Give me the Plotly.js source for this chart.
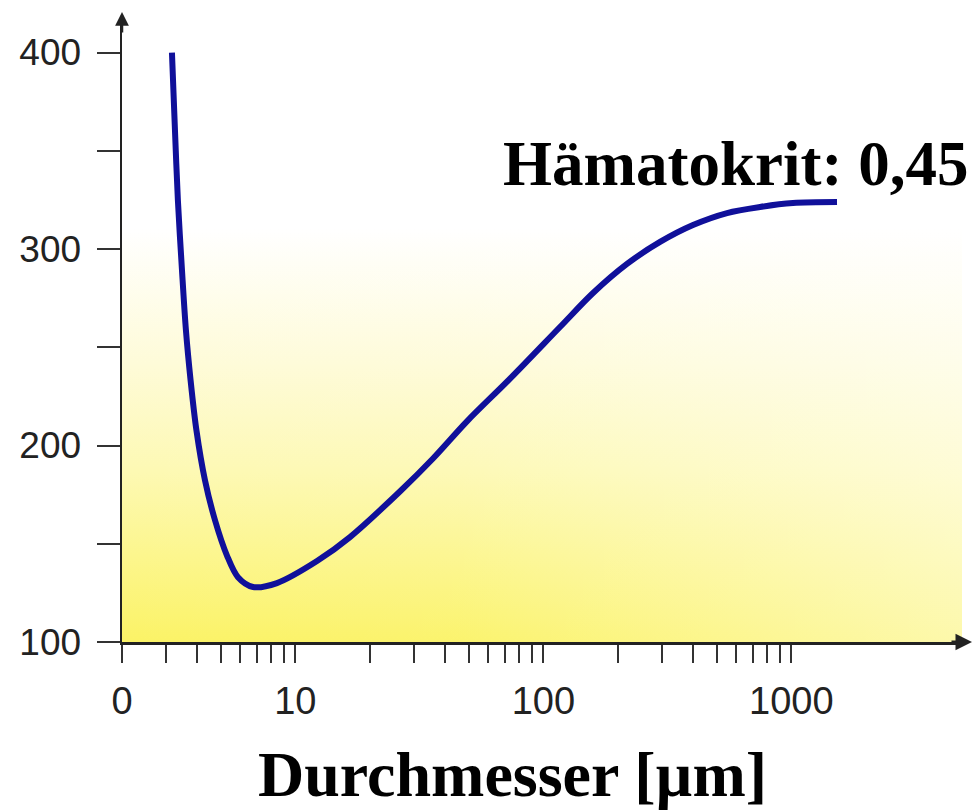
<!DOCTYPE html>
<html>
<head>
<meta charset="utf-8">
<script src="https://cdn.plot.ly/plotly-3.0.1.min.js"></script>
<style>html,body{margin:0;padding:0;background:#fff;}#chart{width:974px;height:810px;}</style>
</head>
<body>
<div id="chart"></div>
<script>
// Data (diameter in µm, log axis; y value)
const diameter = [3.18, 3.27, 3.36, 3.49, 3.62, 3.78, 3.99, 4.32, 4.74, 5.30, 5.87, 6.75, 8.43, 12.23, 16.61, 26.4, 35.9, 49.2, 73.4, 116.7, 158.6, 217.4, 295.4, 401.2, 550.4, 747.4, 1015, 1528];
const viscosityValue = [400, 360.6, 324.9, 289.3, 258.8, 233.3, 207.9, 182.4, 162.1, 144.0, 133.0, 128.0, 130.0, 141.2, 153.4, 176.6, 193.4, 212.3, 234.0, 260.3, 277.6, 292.4, 303.6, 312.2, 318.3, 321.4, 323.4, 323.9];

const xTickVals = [2, 3, 4, 5, 6, 7, 8, 9, 10, 20, 30, 40, 50, 60, 70, 80, 90, 100, 200, 300, 400, 500, 600, 700, 800, 900, 1000];
const xTickText = ["0", "", "", "", "", "", "", "", "10", "", "", "", "", "", "", "", "", "100", "", "", "", "", "", "", "", "", "1000"];
const yTickVals = [100, 150, 200, 250, 300, 350, 400];
const yTickText = ["100", "", "200", "", "300", "", "400"];
const curveLabel = "Hämatokrit: 0,45";
const xTitle = "Durchmesser [µm]";

// background gradient image
function makeBg(w, h) {
  const c = document.createElement('canvas');
  c.width = w; c.height = h;
  const g = c.getContext('2d');
  const v = g.createLinearGradient(0, 0, 0, h);
  v.addColorStop(0, '#ffffff');
  v.addColorStop(0.33, '#ffffff');
  v.addColorStop(0.55, '#fefbd8');
  v.addColorStop(0.72, '#fdf9b4');
  v.addColorStop(1, '#fbf366');
  g.fillStyle = v; g.fillRect(0, 0, w, h);
  const hz = g.createLinearGradient(0, 0, w, 0);
  hz.addColorStop(0, 'rgba(255,255,255,0)');
  hz.addColorStop(0.4, 'rgba(255,255,255,0.05)');
  hz.addColorStop(1, 'rgba(255,255,255,0.45)');
  g.fillStyle = hz; g.fillRect(0, 0, w, h);
  return c.toDataURL('image/png');
}

const trace = {
  x: diameter, y: viscosityValue,
  type: 'scatter', mode: 'lines',
  line: {color: '#10109a', width: 6, shape: 'spline', smoothing: 0.9},
  hoverinfo: 'skip', showlegend: false
};

const layout = {
  width: 974, height: 810,
  margin: {l: 122, r: 12, t: 25, b: 168},
  paper_bgcolor: '#ffffff',
  plot_bgcolor: 'rgba(0,0,0,0)',
  showlegend: false,
  xaxis: {
    type: 'log', range: [Math.log10(2), 3.688],
    tickvals: xTickVals, ticktext: xTickText,
    ticks: 'outside', ticklen: 18, tickwidth: 2, tickcolor: '#333',
    showline: true, linecolor: '#222', linewidth: 3,
    showgrid: false, zeroline: false,
    tickfont: {family: 'Liberation Sans, Arial, sans-serif', size: 38, color: '#222'},
    ticklabelstandoff: 5
  },
  yaxis: {
    range: [100, 414],
    tickvals: yTickVals, ticktext: yTickText,
    ticks: 'outside', ticklen: 23, tickwidth: 2, tickcolor: '#333',
    showline: true, linecolor: '#222', linewidth: 2.5,
    showgrid: false, zeroline: false,
    tickfont: {family: 'Liberation Sans, Arial, sans-serif', size: 37, color: '#222'},
    ticklabelstandoff: 8
  },
  images: [{
    source: makeBg(840, 617), xref: 'paper', yref: 'paper',
    x: 0, y: 1, sizex: 1, sizey: 1, sizing: 'stretch', layer: 'below'
  }],
  annotations: [
    {text: curveLabel, xref: 'paper', yref: 'paper', x: 1.01, y: 0.774, xanchor: 'right', yanchor: 'middle', showarrow: false,
     font: {family: 'Liberation Serif, Times New Roman, serif', size: 63, color: '#000', weight: 'bold'}},
    {text: xTitle, xref: 'paper', yref: 'paper', x: (512 - 122) / 840, y: -0.214, xanchor: 'center', yanchor: 'middle', showarrow: false,
     font: {family: 'Liberation Serif, Times New Roman, serif', size: 64, color: '#000', weight: 'bold'}},
    {text: '', xref: 'paper', yref: 'paper', x: 0, y: 1.021, ax: 0, ay: 22, showarrow: true,
     arrowhead: 2, arrowsize: 1.1, arrowwidth: 2.5, arrowcolor: '#222', standoff: 0},
    {text: '', xref: 'paper', yref: 'paper', x: 1.0119, y: 0, ax: -22, ay: 0, showarrow: true,
     arrowhead: 2, arrowsize: 1.1, arrowwidth: 3, arrowcolor: '#222', standoff: 0}
  ]
};

Plotly.newPlot('chart', [trace], layout, {displayModeBar: false, staticPlot: true});
</script>
</body>
</html>
